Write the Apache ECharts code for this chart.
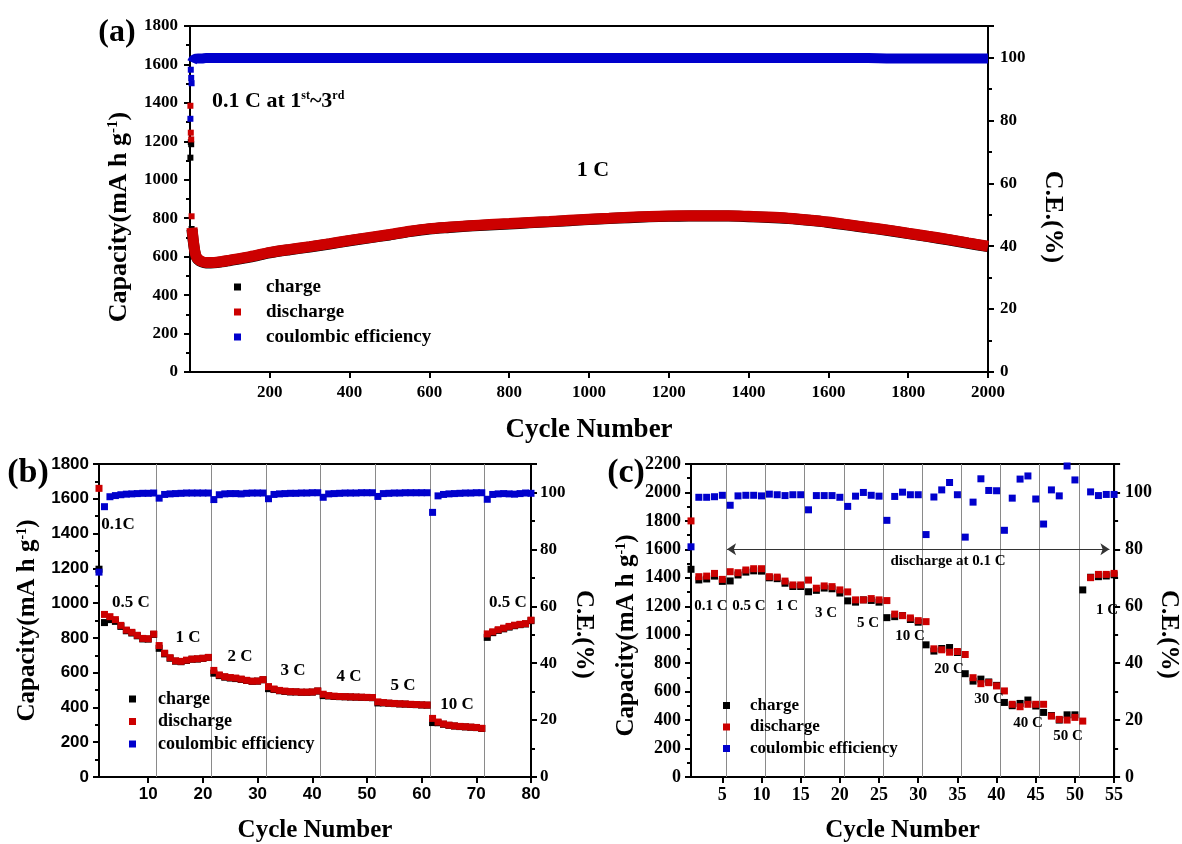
<!DOCTYPE html>
<html><head><meta charset="utf-8">
<script src="https://cdn.jsdelivr.net/npm/echarts@6/dist/echarts.min.js"></script>
<style>html,body{margin:0;padding:0;background:#fff}#c{width:1182px;height:844px}</style>
</head><body><div id="c"></div>
<script>
// ---------------- DATA ----------------
// Panel (a): long-term cycling at 1 C (first cycles at 0.1 C)
const aEarlyCycles = [1, 2, 3, 4];
const aEarlyDischarge = [1385, 1245, 1210, 810];
const aEarlyCharge = [1115, 1196, 1185, 744];
const aEarlyCE = [80.5, 96.1, 93.5, 91.8];
const aCycles = [5, 8, 12, 16, 20, 30, 40, 60, 80, 100, 150, 200, 250, 300, 350, 400, 450, 500, 550, 600, 650, 700, 750, 800, 850, 900, 950, 1000, 1050, 1100, 1150, 1200, 1250, 1300, 1350, 1400, 1450, 1500, 1550, 1600, 1650, 1700, 1750, 1800, 1850, 1900, 1950, 2000];
const aDischarge = [750, 690, 630, 600, 588, 575, 570, 570, 575, 582, 600, 622, 638, 652, 668, 685, 700, 715, 732, 746, 754, 761, 767, 772, 778, 783, 789, 795, 800, 805, 809, 812, 813, 813, 813, 810, 806, 800, 791, 780, 766, 752, 738, 722, 706, 690, 672, 654];
const aCharge = [742, 684, 626, 597, 585, 572, 567, 568, 573, 580, 598, 620, 636, 650, 666, 683, 698, 713, 730, 744, 752, 759, 765, 770, 776, 781, 787, 793, 798, 803, 807, 810, 811, 811, 811, 808, 804, 798, 789, 778, 764, 750, 736, 720, 704, 688, 670, 652];
const aCE = [98.5, 99.2, 99.5, 99.6, 99.7, 99.7, 99.8, 99.8, 99.8, 99.8, 99.8, 99.8, 99.8, 99.8, 99.8, 99.8, 99.8, 99.8, 99.8, 99.8, 99.8, 99.8, 99.8, 99.8, 99.8, 99.8, 99.8, 99.8, 99.8, 99.8, 99.8, 99.8, 99.8, 99.8, 99.8, 99.8, 99.8, 99.8, 99.8, 99.8, 99.8, 99.8, 99.7, 99.7, 99.7, 99.7, 99.7, 99.7];

// Panel (b): rate capability
const bCycles = Array.from({length: 80}, (_, i) => i + 1);
const bDischarge = [1660,
  935, 922, 905, 872, 845, 832, 815, 797, 795, 822,
  756, 712, 686, 668, 665, 672, 678, 680, 683, 688,
  613, 587, 577, 572, 569, 563, 556, 551, 552, 560,
  520, 506, 498, 494, 491, 490, 488, 488, 489, 495,
  476, 468, 465, 463, 462, 461, 460, 459, 458, 457,
  432, 428, 425, 423, 421, 420, 418, 417, 415, 414,
  337, 316, 305, 298, 294, 291, 289, 287, 285, 280,
  823, 835, 847, 856, 866, 873, 878, 882, 902];
const bCharge = [1195,
  888, 905, 895, 866, 841, 828, 812, 794, 793, 820,
  740, 708, 683, 666, 663, 670, 677, 678, 682, 687,
  597, 583, 574, 569, 566, 561, 555, 550, 551, 559,
  508, 503, 496, 492, 489, 489, 487, 487, 488, 494,
  468, 466, 463, 462, 461, 460, 459, 458, 457, 456,
  426, 426, 424, 422, 420, 419, 417, 416, 414, 413,
  313, 312, 303, 297, 293, 290, 288, 286, 284, 279,
  803, 830, 843, 852, 862, 870, 876, 880, 899];
const bCE = [72,
  95, 98.5, 98.9, 99.2, 99.4, 99.5, 99.6, 99.7, 99.7, 99.8,
  98, 99.3, 99.5, 99.6, 99.7, 99.8, 99.8, 99.8, 99.8, 99.8,
  97.5, 99.2, 99.5, 99.6, 99.6, 99.5, 99.7, 99.8, 99.8, 99.8,
  97.8, 99.3, 99.5, 99.6, 99.7, 99.7, 99.8, 99.8, 99.9, 99.9,
  98.3, 99.5, 99.6, 99.7, 99.8, 99.8, 99.8, 99.9, 99.9, 99.9,
  98.6, 99.6, 99.7, 99.8, 99.8, 99.9, 99.9, 99.9, 99.9, 99.9,
  93, 98.8, 99.3, 99.5, 99.6, 99.7, 99.8, 99.8, 99.9, 99.9,
  97.6, 99.3, 99.5, 99.6, 99.5, 99.4, 99.6, 99.8, 99.7];
const bRateBounds = [11.5, 21.5, 31.5, 41.5, 51.5, 61.5, 71.5];
const bRateLabels = ['0.1C', '0.5 C', '1 C', '2 C', '3 C', '4 C', '5 C', '10 C', '0.5 C'];

// Panel (c): charge at high rates, discharge at 0.1 C
const cCycles = Array.from({length: 55}, (_, i) => i + 1);
const cDischarge = [1800, 1408, 1412, 1431, 1389, 1443, 1436, 1455, 1464, 1464,
  1408, 1405, 1377, 1350, 1350, 1384, 1327, 1343, 1338, 1315,
  1301, 1245, 1245, 1254, 1245, 1240, 1145, 1134, 1118, 1099,
  1092, 901, 894, 877, 882, 861, 698, 656, 663, 640,
  605, 511, 494, 511, 511, 511, 428, 405, 400, 419,
  393, 1401, 1424, 1424, 1431];
const cCharge = [1460, 1385, 1392, 1412, 1375, 1378, 1420, 1440, 1449, 1447,
  1400, 1394, 1362, 1339, 1339, 1302, 1312, 1328, 1323, 1293,
  1238, 1229, 1245, 1241, 1229, 1120, 1127, 1135, 1107, 1088,
  929, 885, 903, 910, 875, 726, 674, 688, 668, 644,
  524, 501, 517, 541, 499, 454, 432, 400, 437, 437,
  1315, 1404, 1408, 1413, 1421];
const cCE = [80.9, 98.3, 98.3, 98.5, 99.0, 95.5, 98.8, 99.0, 99.0, 98.8,
  99.4, 99.2, 98.9, 99.2, 99.2, 93.9, 98.9, 98.9, 98.9, 98.3,
  95.1, 98.7, 100.0, 99.0, 98.7, 90.2, 98.6, 100.1, 99.2, 99.2,
  85.2, 98.4, 100.9, 103.5, 99.2, 84.3, 96.6, 104.8, 100.7, 100.6,
  86.7, 98.0, 104.7, 105.8, 97.7, 88.9, 100.9, 98.8, 109.3, 104.4,
  334.6, 100.2, 98.9, 99.3, 99.3];
const cRateBounds = [5.5, 10.5, 15.5, 20.5, 25.5, 30.5, 35.5, 40.5, 45.5, 50.5];
const cRateLabels = ['0.1 C', '0.5 C', '1 C', '3 C', '5 C', '10 C', '20 C', '30 C', '40 C', '50 C', '1 C'];
const cArrow = {from: 5.6, to: 54.4, level: 1600};

// tick labels
const aXTicks = [200, 400, 600, 800, 1000, 1200, 1400, 1600, 1800, 2000];
const bXTicks = [10, 20, 30, 40, 50, 60, 70, 80];
const cXTicks = [5, 10, 15, 20, 25, 30, 35, 40, 45, 50, 55];

const legendNames = ['charge', 'discharge', 'coulombic efficiency'];

// ---------------- STYLE ----------------
const SERIF = '"Liberation Serif", "Times New Roman", serif';
const SANS = '"Liberation Sans", Arial, sans-serif';
const BLACK = '#000000', RED = '#cc0000', BLUE = '#0000cc', SEP = '#8a8a8a';
const zip = (xs, ys) => xs.map((x, i) => [x, ys[i]]);
const plain = v => String(v);

function capName(size) {
  return {
    text: '{t|Capacity(mA h g}{s|-1}{t|)}',
    rich: {
      t: {fontFamily: SERIF, fontWeight: 'bold', fontSize: size, color: '#000'},
      s: {fontFamily: SERIF, fontWeight: 'bold', fontSize: Math.round(size * 0.58), color: '#000', verticalAlign: 'top'}
    }
  };
}

function yAx(o) {
  const ax = {
    type: 'value', gridIndex: o.grid, position: o.pos, min: o.min, max: o.max, interval: o.interval,
    axisLine: {show: true, onZero: false, lineStyle: {color: '#000', width: 2}},
    axisTick: {show: true, inside: false, length: 6, lineStyle: {color: '#000', width: 2}},
    minorTick: {show: true, splitNumber: 2, length: 4, lineStyle: {color: '#000', width: 2}},
    splitLine: {show: false}, minorSplitLine: {show: false},
    axisLabel: {color: '#000', fontFamily: o.font, fontWeight: 'bold', fontSize: o.fs, margin: o.margin,
      showMaxLabel: !o.hideMax, showMinLabel: true, formatter: plain},
    nameLocation: 'middle', nameGap: o.nameGap, nameRotate: o.pos === 'right' ? -90 : 90
  };
  if (o.cap) {
    const cn = capName(o.titleSize);
    ax.name = cn.text;
    ax.nameTextStyle = {rich: cn.rich, fontFamily: SERIF, fontWeight: 'bold', fontSize: o.titleSize, color: '#000', padding: o.pad || 0};
  } else {
    ax.name = 'C.E.(%)';
    ax.nameTextStyle = {fontFamily: SERIF, fontWeight: 'bold', fontSize: o.titleSize, color: '#000', padding: o.pad || 0};
  }
  return ax;
}

function xAx(o) {
  return {
    type: 'value', gridIndex: o.grid, min: o.min, max: o.max,
    axisLine: {show: true, onZero: false, lineStyle: {color: '#000', width: 2}},
    axisTick: {show: true, inside: false, length: 6, lineStyle: {color: '#000', width: 2}, customValues: o.ticks},
    splitLine: {show: false},
    axisLabel: {color: '#000', fontFamily: o.font, fontWeight: 'bold', fontSize: o.fs, margin: o.margin, customValues: o.ticks, formatter: plain},
    name: 'Cycle Number', nameLocation: 'middle', nameGap: o.nameGap,
    nameTextStyle: {fontFamily: SERIF, fontWeight: 'bold', fontSize: o.titleSize, color: '#000'}
  };
}

function scat(name, xi, yi, data, color, size, extra) {
  return Object.assign({
    type: 'scatter', name, xAxisIndex: xi, yAxisIndex: yi, data, symbol: 'rect', symbolSize: size,
    itemStyle: {color, opacity: 1}, clip: true, silent: true
  }, extra || {});
}

function band(name, xi, yi, data, color, width) {
  return {
    type: 'line', name, xAxisIndex: xi, yAxisIndex: yi, data, showSymbol: false, symbol: 'rect',
    lineStyle: {color, width}, itemStyle: {color}, clip: true, silent: true, smooth: 0.3
  };
}

function t(x, y, text, size, align) {
  return {type: 'text', x, y, z: 100, silent: true,
    style: {text, fill: '#000', fontFamily: SERIF, fontWeight: 'bold', fontSize: size,
      align: align || 'center', verticalAlign: 'middle'}};
}

const gridBase = {show: true, borderColor: '#000', borderWidth: 2, backgroundColor: 'transparent', containLabel: false};

const bLabelPos = [[118, 525], [131, 603], [188, 638], [240, 657], [293, 671], [349, 677], [403, 686], [457, 705], [508, 603]];
const cLabelPos = [[711, 606], [749, 606], [787, 606], [826, 613], [868, 623], [910, 636], [949, 669], [989, 699], [1028, 723], [1068, 736], [1107, 610]];

const graphics = [
  t(117, 33, '(a)', 32),
  t(28, 473, '(b)', 34),
  t(626, 473, '(c)', 34),
  {type: 'text', x: 212, y: 101, z: 100, silent: true, style: {
    text: '{a|0.1 C at 1}{s|st}{a|~3}{s|rd}', align: 'left', verticalAlign: 'middle',
    rich: {
      a: {fontFamily: SERIF, fontWeight: 'bold', fontSize: 22, fill: '#000'},
      s: {fontFamily: SERIF, fontWeight: 'bold', fontSize: 12, fill: '#000', verticalAlign: 'top'}
    }}},
  t(593, 170, '1 C', 22),
  t(948, 561, 'discharge at 0.1 C', 15)
];
bRateLabels.forEach((s, i) => graphics.push(t(bLabelPos[i][0], bLabelPos[i][1], s, 17)));
cRateLabels.forEach((s, i) => graphics.push(t(cLabelPos[i][0], cLabelPos[i][1], s, 15)));

function legendAt(left, top, fs, gap, pad, lh) {
  return {
    orient: 'vertical', left, top, itemWidth: 7, itemHeight: 7, itemGap: gap, icon: 'rect',
    selectedMode: false, data: legendNames, padding: 0,
    textStyle: {fontFamily: SERIF, fontWeight: 'bold', fontSize: fs, lineHeight: lh, color: '#000', padding: [0, 0, 0, pad]}
  };
}

const option = {
  animation: false,
  backgroundColor: '#fff',
  grid: [
    Object.assign({left: 190, top: 26, width: 798, height: 346}, gridBase),
    Object.assign({left: 99, top: 464, width: 432, height: 315}, gridBase),
    Object.assign({left: 691, top: 464, width: 433, height: 315}, gridBase)
  ],
  xAxis: [
    xAx({grid: 0, min: 0, max: 2000, ticks: aXTicks, font: SERIF, fs: 17, margin: 12, nameGap: 45, titleSize: 27}),
    xAx({grid: 1, min: 1, max: 80, ticks: bXTicks, font: SANS, fs: 17, margin: 9, nameGap: 41, titleSize: 25}),
    xAx({grid: 2, min: 1, max: 55, ticks: cXTicks, font: SERIF, fs: 18, margin: 9, nameGap: 41, titleSize: 25})
  ],
  yAxis: [
    yAx({grid: 0, pos: 'left', min: 0, max: 1800, interval: 200, font: SERIF, fs: 17, margin: 12, cap: true, titleSize: 26, nameGap: 58, pad: [0, 36, 0, 0]}),
    yAx({grid: 0, pos: 'right', min: 0, max: 110, interval: 20, font: SERIF, fs: 17, margin: 12, hideMax: true, titleSize: 26, nameGap: 52, pad: [0, 0, 0, 36]}),
    yAx({grid: 1, pos: 'left', min: 0, max: 1800, interval: 200, font: SANS, fs: 17, margin: 10, cap: true, titleSize: 25, nameGap: 59}),
    yAx({grid: 1, pos: 'right', min: 0, max: 110, interval: 20, font: SERIF, fs: 17, margin: 9, hideMax: true, titleSize: 25, nameGap: 40, pad: [0, 0, 0, 28]}),
    yAx({grid: 2, pos: 'left', min: 0, max: 2200, interval: 200, font: SERIF, fs: 18, margin: 10, cap: true, titleSize: 25, nameGap: 52, pad: [0, 30, 0, 0]}),
    yAx({grid: 2, pos: 'right', min: 0, max: 110, interval: 20, font: SERIF, fs: 18, margin: 11, hideMax: true, titleSize: 25, nameGap: 39, pad: [0, 0, 0, 28]})
  ],
  legend: [
    legendAt(234, 277, 19, 5, 20, 20),
    legendAt(129, 690, 18, 4.5, 17, 18),
    legendAt(723, 697, 17, 4.5, 15, 17)
  ],
  graphic: graphics,
  series: [
    // (a)
    band('charge', 0, 0, zip(aCycles, aCharge), BLACK, 11),
    scat('charge', 0, 0, zip(aEarlyCycles, aEarlyCharge), BLACK, 6),
    band('discharge', 0, 0, zip(aCycles, aDischarge), RED, 11),
    scat('discharge', 0, 0, zip(aEarlyCycles, aEarlyDischarge), RED, 6),
    band('coulombic efficiency', 0, 1, zip(aCycles, aCE), BLUE, 10),
    scat('coulombic efficiency', 0, 1, zip(aEarlyCycles, aEarlyCE), BLUE, 6),
    // (b)
    scat('charge', 1, 2, zip(bCycles, bCharge), BLACK, 7, {
      markLine: {silent: true, z: 1, symbol: ['none', 'none'], label: {show: false}, animation: false,
        lineStyle: {color: SEP, width: 1, type: 'solid'}, emphasis: {disabled: true},
        data: bRateBounds.map(v => ({xAxis: v}))}
    }),
    scat('discharge', 1, 2, zip(bCycles, bDischarge), RED, 7),
    scat('coulombic efficiency', 1, 3, zip(bCycles, bCE), BLUE, 7),
    // (c)
    scat('charge', 2, 4, zip(cCycles, cCharge), BLACK, 7, {
      markLine: {silent: true, z: 1, symbol: ['none', 'none'], label: {show: false}, animation: false,
        lineStyle: {color: SEP, width: 1, type: 'solid'}, emphasis: {disabled: true},
        data: cRateBounds.map(v => ({xAxis: v}))}
    }),
    scat('discharge', 2, 4, zip(cCycles, cDischarge), RED, 7, {
      markLine: {silent: true, symbol: ['arrow', 'arrow'], symbolSize: [9, 9], label: {show: false}, animation: false,
        lineStyle: {color: '#333', width: 1, type: 'solid'}, emphasis: {disabled: true},
        data: [[{coord: [cArrow.from, cArrow.level]}, {coord: [cArrow.to, cArrow.level]}]]}
    }),
    scat('coulombic efficiency', 2, 5, zip(cCycles, cCE), BLUE, 7)
  ]
};

const chart = echarts.init(document.getElementById('c'), null, {renderer: 'canvas'});
chart.setOption(option);
</script>
</body></html>
